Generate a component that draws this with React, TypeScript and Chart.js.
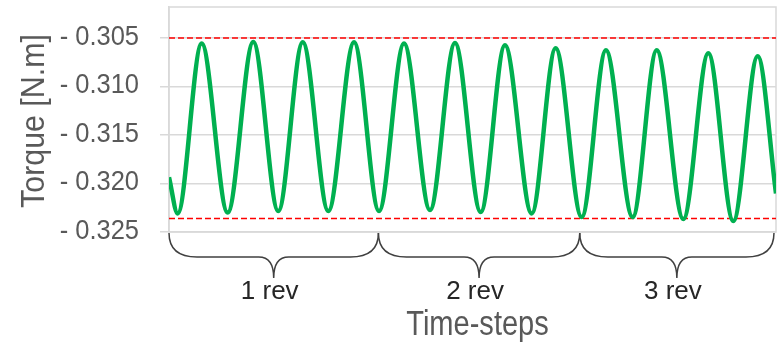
import React, { useEffect, useRef } from 'react';
import { Chart, registerables } from 'chart.js';

Chart.register(...registerables);

// Time-step positions (arbitrary units, 0..600) of the curve's turning points
const timeSteps = [0, 8.6, 32.3, 58, 83.3, 108, 132.2, 157.5, 182.9, 207.6, 232.3, 258, 282.7, 308.1, 332.1, 358.5, 382.2, 407.9, 431.9, 458.3, 482.1, 508.4, 533.1, 557.8, 581.9, 600];
// Torque values [N.m] at those time steps
const torque = [-0.31935, -0.32308, -0.30557, -0.3230, -0.3054, -0.32284, -0.30544, -0.32284, -0.30544, -0.32284, -0.30557, -0.32274, -0.30551, -0.32295, -0.30575, -0.32308, -0.30606, -0.32346, -0.30626, -0.32346, -0.30626, -0.32367, -0.30657, -0.32387, -0.30688, -0.32103];
const upperLimit = -0.305;
const lowerLimit = -0.3236;
const yTicks = [-0.325, -0.32, -0.315, -0.31, -0.305];
const yMin = -0.325;
const yMax = -0.3018;
const xMin = 0;
const xMax = 600;
const revBounds = [0, 207, 406, 598];
const revLabels = ['1 rev', '2 rev', '3 rev'];
const xTitle = 'Time-steps';
const yTitle = 'Torque [N.m]';

const FONT = "'Liberation Sans', Arial, sans-serif";

const fmtTick = (v: number) => `- ${Math.abs(v).toFixed(3)}`;

function condensedText(ctx: any, text: string, x: number, y: number, sx: number) {
  ctx.save();
  ctx.translate(x, y);
  ctx.scale(sx, 1);
  ctx.fillText(text, 0, 0);
  ctx.restore();
}

const decorPlugin = {
  id: 'decor',
  beforeDatasetsDraw(chart: any) {
    const { ctx, chartArea: a } = chart;
    ctx.save();
    ctx.strokeStyle = '#D9D9D9';
    ctx.lineWidth = 1.5;
    ctx.strokeRect(a.left, a.top, a.right - a.left, a.bottom - a.top);
    ctx.restore();
  },
  afterDraw(chart: any) {
    const { ctx, chartArea: a, scales } = chart;
    const xs = scales.x;
    const ys = scales.y;
    ctx.save();
    // y tick labels
    ctx.fillStyle = '#595959';
    ctx.font = `28px ${FONT}`;
    ctx.textAlign = 'right';
    ctx.textBaseline = 'middle';
    for (const v of yTicks) {
      condensedText(ctx, fmtTick(v), a.left - 30, ys.getPixelForValue(v) - 1, 0.91);
    }
    // braces
    const top = a.bottom + 1;
    const mid = a.bottom + 25;
    const tip = a.bottom + 46;
    const r = 28;
    const rt = 15;
    ctx.strokeStyle = '#404040';
    ctx.lineWidth = 1.5;
    for (let i = 0; i < revLabels.length; i++) {
      const x0 = xs.getPixelForValue(revBounds[i]);
      const x1 = xs.getPixelForValue(revBounds[i + 1]);
      const xm = (x0 + x1) / 2;
      ctx.beginPath();
      ctx.moveTo(x0, top);
      ctx.quadraticCurveTo(x0, mid, x0 + r, mid);
      ctx.lineTo(xm - rt, mid);
      ctx.quadraticCurveTo(xm, mid, xm, tip);
      ctx.quadraticCurveTo(xm, mid, xm + rt, mid);
      ctx.lineTo(x1 - r, mid);
      ctx.quadraticCurveTo(x1, mid, x1, top);
      ctx.stroke();
      ctx.fillStyle = '#262626';
      ctx.font = `26px ${FONT}`;
      ctx.textAlign = 'center';
      ctx.textBaseline = 'alphabetic';
      ctx.fillText(revLabels[i], xm - 4, a.bottom + 67);
    }
    // x title
    ctx.fillStyle = '#595959';
    ctx.font = `35px ${FONT}`;
    ctx.textAlign = 'center';
    ctx.textBaseline = 'alphabetic';
    condensedText(ctx, xTitle, (a.left + a.right) / 2 + 5, a.bottom + 103, 0.83);
    // y title
    ctx.font = `33px ${FONT}`;
    ctx.translate(44, 121);
    ctx.rotate(-Math.PI / 2);
    ctx.scale(0.92, 1);
    ctx.fillText(yTitle, 0, 0);
    ctx.restore();
  },
};

export default function App() {
  const ref = useRef<HTMLCanvasElement>(null);
  useEffect(() => {
    if (!ref.current) return;
    const chart = new Chart(ref.current, {
      type: 'line',
      data: {
        datasets: [
          {
            data: timeSteps.map((t, i) => ({ x: t, y: torque[i] })),
            borderColor: '#00B050',
            borderWidth: 4.5,
            pointRadius: 0,
            cubicInterpolationMode: 'monotone',
            fill: false,
            order: 0,
          },
          {
            data: [{ x: xMin, y: upperLimit }, { x: xMax, y: upperLimit }],
            borderColor: '#FF0000',
            borderWidth: 1.5,
            borderDash: [6, 3],
            pointRadius: 0,
            fill: false,
            order: 1,
          },
          {
            data: [{ x: xMin, y: lowerLimit }, { x: xMax, y: lowerLimit }],
            borderColor: '#FF0000',
            borderWidth: 1.5,
            borderDash: [6, 3],
            pointRadius: 0,
            fill: false,
            order: 1,
          },
        ],
      },
      options: {
        animation: false,
        responsive: false,
        maintainAspectRatio: false,
        layout: { padding: { left: 0, top: 7, right: 1, bottom: 113 } },
        plugins: { legend: { display: false }, tooltip: { enabled: false } },
        scales: {
          x: {
            type: 'linear',
            min: xMin,
            max: xMax,
            display: false,
          },
          y: {
            type: 'linear',
            min: yMin,
            max: yMax,
            afterBuildTicks: (scale: any) => {
              scale.ticks = yTicks.map((v) => ({ value: v }));
            },
            afterFit: (scale: any) => {
              scale.width = 169;
            },
            grid: { color: '#D9D9D9', lineWidth: 1.5, tickLength: 9, drawTicks: true },
            border: { display: true, color: '#D9D9D9', width: 1.5 },
            ticks: { display: false },
          },
        },
      },
      plugins: [decorPlugin],
    } as any);
    return () => chart.destroy();
  }, []);
  return (
    <div style={{ position: 'fixed', left: 0, top: 0, width: 777, height: 345, background: '#fff' }}>
      <canvas ref={ref} width={777} height={345} style={{ display: 'block' }} />
    </div>
  );
}
